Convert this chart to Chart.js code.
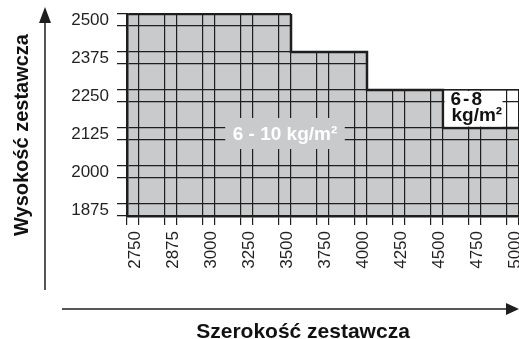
<!DOCTYPE html>
<html>
<head>
<meta charset="utf-8">
<script src="https://cdn.jsdelivr.net/npm/chart.js@4"></script>
<style>
  html, body { margin: 0; padding: 0; background: #fff; }
  canvas { display: block; }
</style>
</head>
<body>
<canvas id="chart" width="519" height="339"></canvas>
<script>
// axis labels (evenly spaced, not to scale)
const widthLabels = ['2750', '2875', '3000', '3250', '3500', '3750', '4000', '4250', '4500', '4750', '5000'];
const heightLabels = ['1875', '2000', '2125', '2250', '2375', '2500'];

// right edge of each width zone and the max height allowed in it
const zoneEnds = [3500, 4000, 4500, 5000];
const heavyMax = [2500, 2375, 2250, 2125];   // 6 - 10 kg/m2
const lightMax = [2500, 2375, 2250, 2250];   // 6 - 8 kg/m2

const half = 0.158; // every tick is drawn as a pair of lines, +/- half a step
const ink = '#1e1e1e';
const fontFamily = '"Liberation Sans", Arial, sans-serif';

function xPos(v) { return widthLabels.indexOf(String(v)); }
function yPos(v) { return heightLabels.indexOf(String(v)); }

// stepped outline: one point at the start of every zone + one at the far end
function stepPoints(heights) {
  const pts = [];
  heights.forEach((h, i) => {
    const x = i === 0 ? xPos(widthLabels[0]) - half : xPos(zoneEnds[i - 1]) + half;
    pts.push({ x: x, y: yPos(h) + half });
  });
  pts.push({ x: xPos(zoneEnds[zoneEnds.length - 1]) + half, y: yPos(heights[heights.length - 1]) + half });
  return pts;
}

function pairTicks(count) {
  const t = [];
  for (let i = 0; i < count; i++) {
    t.push({ value: i - half }, { value: i + half });
  }
  return t;
}

// grid is drawn above the grey fill, but only inside the outer (6-8) outline
const gridClip = {
  id: 'gridClip',
  afterDatasetsDraw(chart) {
    const ctx = chart.ctx, area = chart.chartArea;
    const pts = chart.getDatasetMeta(0).data;
    ctx.save();
    ctx.beginPath();
    ctx.moveTo(pts[0].x, area.bottom);
    let prevY = pts[0].y - 1;
    ctx.lineTo(pts[0].x, prevY);
    let x = pts[0].x;
    for (let i = 1; i < pts.length; i++) {
      x = i === pts.length - 1 ? pts[i].x + 1 : pts[i].x;
      ctx.lineTo(x, prevY);
      prevY = pts[i].y - 1;
      ctx.lineTo(x, prevY);
    }
    ctx.lineTo(x, area.bottom);
    ctx.closePath();
    ctx.rect(area.left - 14, area.top - 2, 14, area.bottom - area.top + 16);
    ctx.rect(area.left - 14, area.bottom, area.right - area.left + 16, 16);
    ctx.clip();
  },
  afterDraw(chart) {
    const ctx = chart.ctx;
    ctx.restore();

    const xs = chart.scales.x, ys = chart.scales.y;
    ctx.save();

    // 6 - 10 kg/m2 tag
    ctx.font = 'bold 19px ' + fontFamily;
    ctx.textAlign = 'center';
    ctx.textBaseline = 'middle';
    const t1 = '6 - 10 kg/m²';
    const cx = xs.getPixelForValue(xPos(3500));
    const cy = ys.getPixelForValue(yPos(2125)) - 0.5;
    const w1 = ctx.measureText(t1).width + 15;
    ctx.fillStyle = '#c9cacc';
    ctx.fillRect(cx - w1 / 2, cy - 15.5, w1, 31);
    ctx.fillStyle = '#ffffff';
    ctx.fillText(t1, cx, cy + 1);

    // 6-8 kg/m2 tag
    const left = xs.getPixelForValue(xPos(4500) + half) + 1.5;
    const top = ys.getPixelForValue(yPos(2250) + half) + 1;
    const bottom = ys.getPixelForValue(yPos(2125) + half) - 1.5;
    ctx.fillStyle = '#ffffff';
    ctx.fillRect(left, top, 58, bottom - top);
    ctx.fillStyle = '#111111';
    ctx.textAlign = 'left';
    ctx.letterSpacing = '2px';
    ctx.fillText('6-8', left + 6, top + 8.5);
    ctx.letterSpacing = '0px';
    ctx.fillText('kg/m²', left + 7, top + 25);

    // axis arrows
    ctx.strokeStyle = ink;
    ctx.fillStyle = ink;
    ctx.lineWidth = 1.5;
    ctx.beginPath();
    ctx.moveTo(45, 290);
    ctx.lineTo(45, 20);
    ctx.stroke();
    ctx.beginPath();
    ctx.moveTo(45, 7);
    ctx.lineTo(51, 23);
    ctx.lineTo(39, 23);
    ctx.closePath();
    ctx.fill();

    ctx.beginPath();
    ctx.moveTo(62, 309);
    ctx.lineTo(509, 309);
    ctx.stroke();
    ctx.beginPath();
    ctx.moveTo(519, 309);
    ctx.lineTo(506, 303);
    ctx.lineTo(506, 315);
    ctx.closePath();
    ctx.fill();

    // axis titles
    ctx.fillStyle = '#111111';
    ctx.textAlign = 'center';
    ctx.textBaseline = 'alphabetic';
    ctx.font = 'bold 21px ' + fontFamily;
    ctx.fillText('Szerokość zestawcza', 303, 338);
    ctx.font = 'bold 20px ' + fontFamily;
    ctx.translate(27.5, 135);
    ctx.rotate(-Math.PI / 2);
    ctx.fillText('Wysokość zestawcza', 0, 0);
    ctx.restore();
  }
};

const ctx = document.getElementById('chart').getContext('2d');
new Chart(ctx, {
  type: 'line',
  data: {
    datasets: [{
      label: '6 - 8 kg/m2',
      data: stepPoints(lightMax),
      stepped: 'before',
      borderColor: ink,
      borderWidth: 1,
      pointRadius: 0,
      fill: false,
      order: 2
    }, {
      label: '6 - 10 kg/m2',
      data: stepPoints(heavyMax),
      stepped: 'before',
      borderColor: ink,
      borderWidth: 2.5,
      backgroundColor: '#c9cacc',
      pointRadius: 0,
      fill: 'start',
      order: 1
    }]
  },
  options: {
    responsive: false,
    animation: false,
    layout: { padding: { top: 14, right: 0, bottom: 0, left: 0 } },
    plugins: {
      legend: { display: false },
      tooltip: { enabled: false }
    },
    scales: {
      x: {
        type: 'linear',
        min: -half,
        max: widthLabels.length - 1 + half,
        afterBuildTicks: s => { s.ticks = pairTicks(widthLabels.length); },
        afterFit: s => {
          s.height = 123;
          s.paddingLeft = 0;
          s.paddingRight = 0;
        },
        grid: { color: ink, lineWidth: 1.2, tickLength: 9, z: 1 },
        border: { display: true, color: ink, width: 2.5, z: 2 },
        ticks: {
          autoSkip: false,
          maxRotation: 90,
          minRotation: 90,
          padding: 6,
          labelOffset: 8,
          color: '#231f20',
          font: { family: fontFamily, size: 17 },
          callback: (v, i) => i % 2 === 0 ? widthLabels[i / 2] : ''
        }
      },
      y: {
        type: 'linear',
        min: -half,
        max: heightLabels.length - 1 + half,
        afterBuildTicks: s => { s.ticks = pairTicks(heightLabels.length); },
        afterFit: s => {
          s.width = 127;
          s.paddingTop = 0;
          s.paddingBottom = 0;
        },
        grid: { color: ink, lineWidth: 1.2, tickLength: 10, z: 1 },
        border: { display: true, color: ink, width: 2.5, z: 2 },
        ticks: {
          autoSkip: false,
          padding: 8,
          labelOffset: -6,
          color: '#231f20',
          font: { family: fontFamily, size: 17 },
          callback: (v, i) => i % 2 === 0 ? heightLabels[i / 2] : ''
        }
      }
    }
  },
  plugins: [gridClip]
});
</script>
</body>
</html>
